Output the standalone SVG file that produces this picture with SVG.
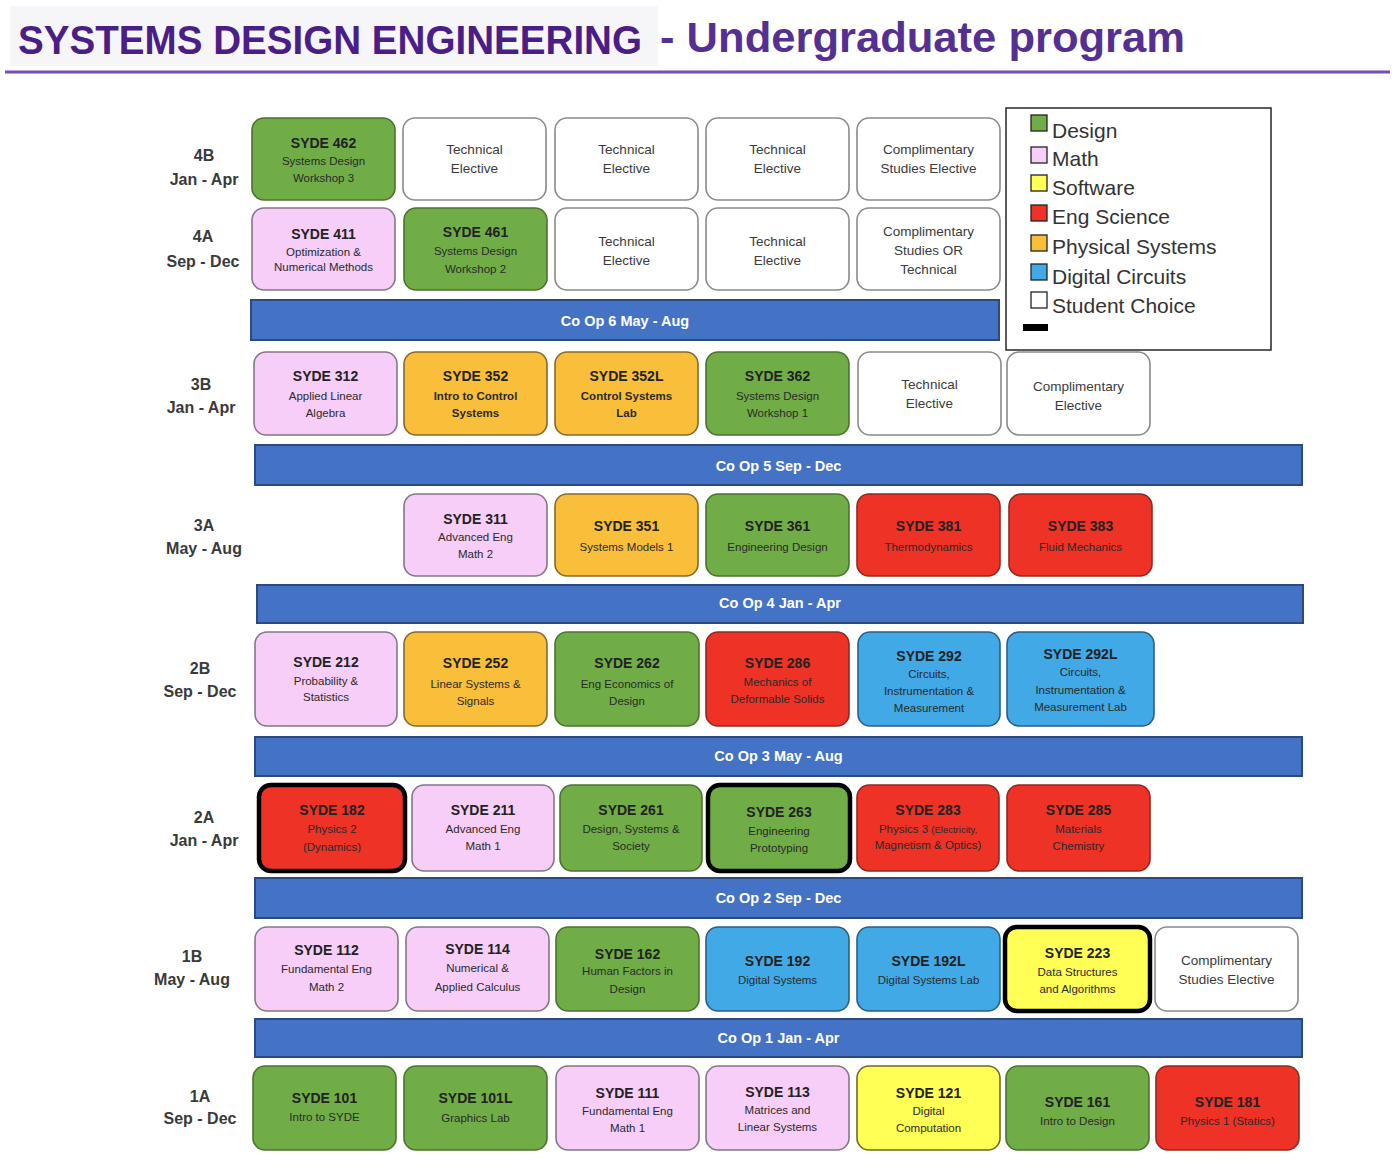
<svg xmlns="http://www.w3.org/2000/svg" width="1400" height="1175" viewBox="0 0 1400 1175">
<style>
text{font-family:"Liberation Sans",Arial,sans-serif}
.box{stroke-width:1.6}
.d{fill:#70AD47;stroke:#4C7230}
.m{fill:#F7CEF7;stroke:#857588}
.sw{fill:#FFFF55;stroke:#6E6A2A}
.es{fill:#EE3226;stroke:#8E2A22}
.ps{fill:#F9BF3B;stroke:#86692A}
.dc{fill:#40A9E6;stroke:#2A5F85}
.sc{fill:#FFFFFF;stroke:#8A8A8A}
.thick{stroke:#000;stroke-width:4.5}
.coop{fill:#4472C4;stroke:#2B4A80;stroke-width:2}
.t{font-weight:bold;font-size:14px;fill:#222;text-anchor:middle}
.s{font-size:11.5px;fill:#2a2a2a;text-anchor:middle}
.sb{font-size:11.5px;font-weight:bold;fill:#2a2a2a;text-anchor:middle}
.e{font-size:13.5px;fill:#3a3a3a;text-anchor:middle}
.ct{font-weight:bold;font-size:14.5px;fill:#FFFFFF;text-anchor:middle}
.lab{font-weight:bold;font-size:16px;fill:#3a3a3a;text-anchor:middle}
.lg{font-size:21px;fill:#333}
.lsq{stroke:#222;stroke-width:1.3}
</style>
<rect x="10" y="6" width="648" height="60" fill="#F6F6F8"/>
<g id="title">
<text x="18" y="54" font-size="40" font-weight="bold" fill="#4A1E86" textLength="624" lengthAdjust="spacingAndGlyphs">SYSTEMS DESIGN ENGINEERING</text>
<text x="660" y="52" font-size="43" font-weight="bold" fill="#533092" textLength="525" lengthAdjust="spacingAndGlyphs">- Undergraduate program</text>
<line x1="5" y1="72" x2="1390" y2="72" stroke="#7A4CB5" stroke-width="3"/>
</g>

<g id="row-labels">
<text class="lab" x="204" y="161">4B</text><text class="lab" x="204" y="185">Jan - Apr</text>
<text class="lab" x="203" y="242">4A</text><text class="lab" x="203" y="267">Sep - Dec</text>
<text class="lab" x="201" y="390">3B</text><text class="lab" x="201" y="413">Jan - Apr</text>
<text class="lab" x="204" y="531">3A</text><text class="lab" x="204" y="554">May - Aug</text>
<text class="lab" x="200" y="674">2B</text><text class="lab" x="200" y="697">Sep - Dec</text>
<text class="lab" x="204" y="823">2A</text><text class="lab" x="204" y="846">Jan - Apr</text>
<text class="lab" x="192" y="962">1B</text><text class="lab" x="192" y="985">May - Aug</text>
<text class="lab" x="200" y="1102">1A</text><text class="lab" x="200" y="1124">Sep - Dec</text>
</g>

<g id="connectors"></g>

<!-- Row 4B -->
<g id="syde462"><rect class="box d" x="252" y="118" width="143" height="82" rx="12"/><text class="t" x="323.5" y="148">SYDE 462</text><text class="s" x="323.5" y="165">Systems Design</text><text class="s" x="323.5" y="182">Workshop 3</text></g>
<g id="te-4b-1"><rect class="box sc" x="403" y="118" width="143" height="82" rx="12"/><text class="e" x="474.5" y="154">Technical</text><text class="e" x="474.5" y="173">Elective</text></g>
<g id="te-4b-2"><rect class="box sc" x="555" y="118" width="143" height="82" rx="12"/><text class="e" x="626.5" y="154">Technical</text><text class="e" x="626.5" y="173">Elective</text></g>
<g id="te-4b-3"><rect class="box sc" x="706" y="118" width="143" height="82" rx="12"/><text class="e" x="777.5" y="154">Technical</text><text class="e" x="777.5" y="173">Elective</text></g>
<g id="cse-4b"><rect class="box sc" x="857" y="118" width="143" height="82" rx="12"/><text class="e" x="928.5" y="154">Complimentary</text><text class="e" x="928.5" y="173">Studies Elective</text></g>

<!-- Row 4A -->
<g id="syde411"><rect class="box m" x="252" y="208" width="143" height="82" rx="12"/><text class="t" x="323.5" y="239">SYDE 411</text><text class="s" x="323.5" y="256">Optimization &amp;</text><text class="s" x="323.5" y="271">Numerical Methods</text></g>
<g id="syde461"><rect class="box d" x="404" y="208" width="143" height="82" rx="12"/><text class="t" x="475.5" y="237">SYDE 461</text><text class="s" x="475.5" y="255">Systems Design</text><text class="s" x="475.5" y="273">Workshop 2</text></g>
<g id="te-4a-1"><rect class="box sc" x="555" y="208" width="143" height="82" rx="12"/><text class="e" x="626.5" y="246">Technical</text><text class="e" x="626.5" y="265">Elective</text></g>
<g id="te-4a-2"><rect class="box sc" x="706" y="208" width="143" height="82" rx="12"/><text class="e" x="777.5" y="246">Technical</text><text class="e" x="777.5" y="265">Elective</text></g>
<g id="cse-4a"><rect class="box sc" x="857" y="208" width="143" height="82" rx="12"/><text class="e" x="928.5" y="236">Complimentary</text><text class="e" x="928.5" y="255">Studies OR</text><text class="e" x="928.5" y="274">Technical</text></g>

<g id="coop6"><rect class="coop" x="251" y="300" width="748" height="40"/><text class="ct" x="625" y="326">Co Op 6 May - Aug</text></g>

<!-- Legend -->
<g id="legend">
<rect x="1006" y="108" width="265" height="242" fill="#FFFFFF" stroke="#333" stroke-width="1.6"/>
<rect class="lsq" x="1031" y="115" width="16" height="16" fill="#70AD47"/><text class="lg" x="1052" y="138">Design</text>
<rect class="lsq" x="1031" y="147" width="16" height="16" fill="#F7CEF7"/><text class="lg" x="1052" y="166">Math</text>
<rect class="lsq" x="1031" y="175" width="16" height="16" fill="#FFFF55"/><text class="lg" x="1052" y="195">Software</text>
<rect class="lsq" x="1031" y="205" width="16" height="16" fill="#EE3226"/><text class="lg" x="1052" y="224">Eng Science</text>
<rect class="lsq" x="1031" y="235" width="16" height="16" fill="#F9BF3B"/><text class="lg" x="1052" y="254">Physical Systems</text>
<rect class="lsq" x="1031" y="264" width="16" height="16" fill="#40A9E6"/><text class="lg" x="1052" y="284">Digital Circuits</text>
<rect class="lsq" x="1031" y="292" width="16" height="16" fill="#FFFFFF"/><text class="lg" x="1052" y="313">Student Choice</text>
<rect x="1023" y="324" width="25" height="7" fill="#000"/>
</g>

<!-- Row 3B -->
<g id="syde312"><rect class="box m" x="254" y="352" width="143" height="83" rx="12"/><text class="t" x="325.5" y="381">SYDE 312</text><text class="s" x="325.5" y="400">Applied Linear</text><text class="s" x="325.5" y="417">Algebra</text></g>
<g id="syde352"><rect class="box ps" x="404" y="352" width="143" height="83" rx="12"/><text class="t" x="475.5" y="381">SYDE 352</text><text class="sb" x="475.5" y="400">Intro to Control</text><text class="sb" x="475.5" y="417">Systems</text></g>
<g id="syde352l"><rect class="box ps" x="555" y="352" width="143" height="83" rx="12"/><text class="t" x="626.5" y="381">SYDE 352L</text><text class="sb" x="626.5" y="400">Control Systems</text><text class="sb" x="626.5" y="417">Lab</text></g>
<g id="syde362"><rect class="box d" x="706" y="352" width="143" height="83" rx="12"/><text class="t" x="777.5" y="381">SYDE 362</text><text class="s" x="777.5" y="400">Systems Design</text><text class="s" x="777.5" y="417">Workshop 1</text></g>
<g id="te-3b"><rect class="box sc" x="858" y="352" width="143" height="83" rx="12"/><text class="e" x="929.5" y="389">Technical</text><text class="e" x="929.5" y="408">Elective</text></g>
<g id="ce-3b"><rect class="box sc" x="1007" y="352" width="143" height="83" rx="12"/><text class="e" x="1078.5" y="391">Complimentary</text><text class="e" x="1078.5" y="410">Elective</text></g>

<g id="coop5"><rect class="coop" x="255" y="445" width="1047" height="40"/><text class="ct" x="778.5" y="471">Co Op 5 Sep - Dec</text></g>

<!-- Row 3A -->
<g id="syde311"><rect class="box m" x="404" y="494" width="143" height="82" rx="12"/><text class="t" x="475.5" y="524">SYDE 311</text><text class="s" x="475.5" y="541">Advanced Eng</text><text class="s" x="475.5" y="558">Math 2</text></g>
<g id="syde351"><rect class="box ps" x="555" y="494" width="143" height="82" rx="12"/><text class="t" x="626.5" y="531">SYDE 351</text><text class="s" x="626.5" y="551">Systems Models 1</text></g>
<g id="syde361"><rect class="box d" x="706" y="494" width="143" height="82" rx="12"/><text class="t" x="777.5" y="531">SYDE 361</text><text class="s" x="777.5" y="551">Engineering Design</text></g>
<g id="syde381"><rect class="box es" x="857" y="494" width="143" height="82" rx="12"/><text class="t" x="928.5" y="531">SYDE 381</text><text class="s" x="928.5" y="551">Thermodynamics</text></g>
<g id="syde383"><rect class="box es" x="1009" y="494" width="143" height="82" rx="12"/><text class="t" x="1080.5" y="531">SYDE 383</text><text class="s" x="1080.5" y="551">Fluid Mechanics</text></g>

<g id="coop4"><rect class="coop" x="257" y="585" width="1046" height="38"/><text class="ct" x="780" y="608">Co Op 4 Jan - Apr</text></g>

<!-- Row 2B -->
<g id="syde212"><rect class="box m" x="255" y="632" width="142" height="94" rx="12"/><text class="t" x="326" y="667">SYDE 212</text><text class="s" x="326" y="685">Probability &amp;</text><text class="s" x="326" y="701">Statistics</text></g>
<g id="syde252"><rect class="box ps" x="404" y="632" width="143" height="94" rx="12"/><text class="t" x="475.5" y="668">SYDE 252</text><text class="s" x="475.5" y="688">Linear Systems &amp;</text><text class="s" x="475.5" y="705">Signals</text></g>
<g id="syde262"><rect class="box d" x="555" y="632" width="144" height="94" rx="12"/><text class="t" x="627" y="668">SYDE 262</text><text class="s" x="627" y="688">Eng Economics of</text><text class="s" x="627" y="705">Design</text></g>
<g id="syde286"><rect class="box es" x="706" y="632" width="143" height="94" rx="12"/><text class="t" x="777.5" y="668">SYDE 286</text><text class="s" x="777.5" y="686">Mechanics of</text><text class="s" x="777.5" y="703">Deformable Solids</text></g>
<g id="syde292"><rect class="box dc" x="858" y="632" width="142" height="94" rx="12"/><text class="t" x="929" y="661">SYDE 292</text><text class="s" x="929" y="678">Circuits,</text><text class="s" x="929" y="695">Instrumentation &amp;</text><text class="s" x="929" y="712">Measurement</text></g>
<g id="syde292l"><rect class="box dc" x="1007" y="632" width="147" height="94" rx="12"/><text class="t" x="1080.5" y="659">SYDE 292L</text><text class="s" x="1080.5" y="676">Circuits,</text><text class="s" x="1080.5" y="694">Instrumentation &amp;</text><text class="s" x="1080.5" y="711">Measurement Lab</text></g>

<g id="coop3"><rect class="coop" x="255" y="737" width="1047" height="39"/><text class="ct" x="778.5" y="761">Co Op 3 May - Aug</text></g>

<!-- Row 2A -->
<g id="syde182"><rect class="box es thick" x="259" y="785" width="146" height="86" rx="12"/><text class="t" x="332" y="815">SYDE 182</text><text class="s" x="332" y="833">Physics 2</text><text class="s" x="332" y="851">(Dynamics)</text></g>
<g id="syde211"><rect class="box m" x="412" y="785" width="142" height="86" rx="12"/><text class="t" x="483" y="815">SYDE 211</text><text class="s" x="483" y="833">Advanced Eng</text><text class="s" x="483" y="850">Math 1</text></g>
<g id="syde261"><rect class="box d" x="560" y="785" width="142" height="86" rx="12"/><text class="t" x="631" y="815">SYDE 261</text><text class="s" x="631" y="833">Design, Systems &amp;</text><text class="s" x="631" y="850">Society</text></g>
<g id="syde263"><rect class="box d thick" x="708" y="785" width="142" height="86" rx="12"/><text class="t" x="779" y="817">SYDE 263</text><text class="s" x="779" y="835">Engineering</text><text class="s" x="779" y="852">Prototyping</text></g>
<g id="syde283"><rect class="box es" x="857" y="785" width="142" height="86" rx="12"/><text class="t" x="928" y="815">SYDE 283</text><text class="s" x="928" y="833">Physics 3 <tspan font-size="9.5">(Electricity,</tspan></text><text class="s" x="928" y="849" font-size="9.5">Magnetism &amp; Optics)</text></g>
<g id="syde285"><rect class="box es" x="1007" y="785" width="143" height="86" rx="12"/><text class="t" x="1078.5" y="815">SYDE 285</text><text class="s" x="1078.5" y="833">Materials</text><text class="s" x="1078.5" y="850">Chemistry</text></g>

<g id="coop2"><rect class="coop" x="255" y="878" width="1047" height="40"/><text class="ct" x="778.5" y="903">Co Op 2 Sep - Dec</text></g>

<!-- Row 1B -->
<g id="syde112"><rect class="box m" x="255" y="927" width="143" height="84" rx="12"/><text class="t" x="326.5" y="955">SYDE 112</text><text class="s" x="326.5" y="973">Fundamental Eng</text><text class="s" x="326.5" y="991">Math 2</text></g>
<g id="syde114"><rect class="box m" x="406" y="927" width="143" height="84" rx="12"/><text class="t" x="477.5" y="954">SYDE 114</text><text class="s" x="477.5" y="972">Numerical &amp;</text><text class="s" x="477.5" y="991">Applied Calculus</text></g>
<g id="syde162"><rect class="box d" x="556" y="927" width="143" height="84" rx="12"/><text class="t" x="627.5" y="959">SYDE 162</text><text class="s" x="627.5" y="975">Human Factors in</text><text class="s" x="627.5" y="993">Design</text></g>
<g id="syde192"><rect class="box dc" x="706" y="927" width="143" height="84" rx="12"/><text class="t" x="777.5" y="966">SYDE 192</text><text class="s" x="777.5" y="984">Digital Systems</text></g>
<g id="syde192l"><rect class="box dc" x="857" y="927" width="143" height="84" rx="12"/><text class="t" x="928.5" y="966">SYDE 192L</text><text class="s" x="928.5" y="984">Digital Systems Lab</text></g>
<g id="syde223"><rect class="box sw thick" x="1005" y="927" width="145" height="84" rx="12"/><text class="t" x="1077.5" y="958">SYDE 223</text><text class="s" x="1077.5" y="976">Data Structures</text><text class="s" x="1077.5" y="993">and Algorithms</text></g>
<g id="cse-1b"><rect class="box sc" x="1155" y="927" width="143" height="84" rx="12"/><text class="e" x="1226.5" y="965">Complimentary</text><text class="e" x="1226.5" y="984">Studies Elective</text></g>

<g id="coop1"><rect class="coop" x="255" y="1019" width="1047" height="38"/><text class="ct" x="778.5" y="1043">Co Op 1 Jan - Apr</text></g>

<!-- Row 1A -->
<g id="syde101"><rect class="box d" x="253" y="1066" width="143" height="84" rx="12"/><text class="t" x="324.5" y="1103">SYDE 101</text><text class="s" x="324.5" y="1121">Intro to SYDE</text></g>
<g id="syde101l"><rect class="box d" x="404" y="1066" width="143" height="84" rx="12"/><text class="t" x="475.5" y="1103">SYDE 101L</text><text class="s" x="475.5" y="1122">Graphics Lab</text></g>
<g id="syde111"><rect class="box m" x="556" y="1066" width="143" height="84" rx="12"/><text class="t" x="627.5" y="1098">SYDE 111</text><text class="s" x="627.5" y="1115">Fundamental Eng</text><text class="s" x="627.5" y="1132">Math 1</text></g>
<g id="syde113"><rect class="box m" x="706" y="1066" width="143" height="84" rx="12"/><text class="t" x="777.5" y="1097">SYDE 113</text><text class="s" x="777.5" y="1114">Matrices and</text><text class="s" x="777.5" y="1131">Linear Systems</text></g>
<g id="syde121"><rect class="box sw" x="857" y="1066" width="143" height="84" rx="12"/><text class="t" x="928.5" y="1098">SYDE 121</text><text class="s" x="928.5" y="1115">Digital</text><text class="s" x="928.5" y="1132">Computation</text></g>
<g id="syde161"><rect class="box d" x="1006" y="1066" width="143" height="84" rx="12"/><text class="t" x="1077.5" y="1107">SYDE 161</text><text class="s" x="1077.5" y="1125">Intro to Design</text></g>
<g id="syde181"><rect class="box es" x="1156" y="1066" width="143" height="84" rx="12"/><text class="t" x="1227.5" y="1107">SYDE 181</text><text class="s" x="1227.5" y="1125">Physics 1 (Statics)</text></g>
</svg>
